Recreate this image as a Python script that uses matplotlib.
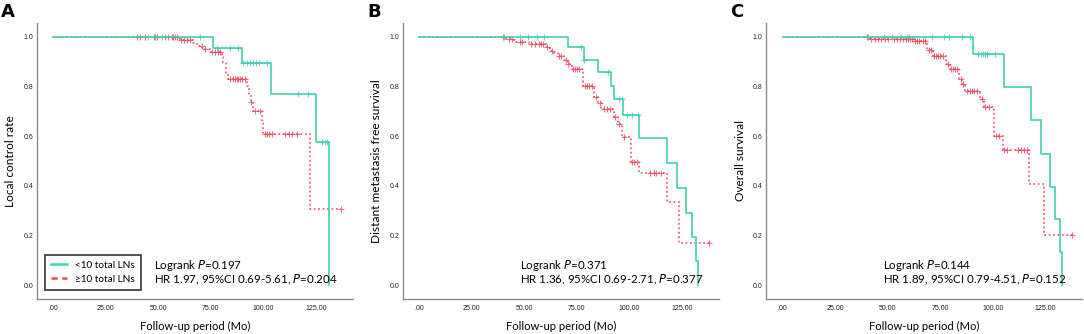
import matplotlib
matplotlib.use("Agg")
import matplotlib.pyplot as plt
import numpy as np
from matplotlib.lines import Line2D

plt.rcParams['font.family'] = ['Lato', 'DejaVu Sans']

# ---- panel A: local control ----
a_lo_t = [76.0, 89.7, 103.5, 125.0, 131.2]
a_lo_s = [0.955, 0.895, 0.768, 0.575, 0.0]
a_lo_c = [45.0, 48.4, 51.6, 69.8, 77.7, 84.1, 88.1, 90.4, 92.0, 93.5, 95.0, 96.5, 98.0,
          101.5, 116.3, 121.4, 127.7, 129.3, 130.3]
a_hi_t = [60.3, 66.6, 68.2, 71.0, 74.6, 80.1, 81.0, 82.0, 83.0, 92.0, 93.0, 94.0, 95.0,
          99.2, 100.0, 122.2]
a_hi_s = [0.987, 0.973, 0.962, 0.95, 0.937, 0.917, 0.893, 0.852, 0.83, 0.80, 0.765, 0.738,
          0.702, 0.654, 0.608, 0.305]
a_hi_c = [39.7, 41.3, 43.7, 47.7, 48.4, 49.2, 53.2, 54.8, 56.4, 57.1, 57.9, 58.7, 61.0, 62.0,
          63.5, 65.0, 70.6, 72.2, 75.4, 76.9, 78.5, 79.3, 84.1, 85.7, 86.5, 87.3, 88.1, 88.9,
          89.7, 91.2, 94.0, 96.0, 98.4, 100.8, 101.5, 102.5, 104.0, 110.3, 112.0, 113.5,
          115.8, 136.8]

# ---- panel B: distant metastasis free survival ----
b_lo_t = [70.9, 78.5, 84.9, 91.2, 92.8, 96.8, 104.7, 117.9, 122.7, 126.9, 129.6, 131.7, 132.5]
b_lo_s = [0.957, 0.906, 0.856, 0.803, 0.748, 0.685, 0.591, 0.49, 0.389, 0.291, 0.195, 0.098, 0.0]
b_lo_c = [40.4, 48.0, 51.9, 56.0, 59.2, 77.0, 78.6, 89.7, 95.1, 96.4, 98.9, 101.3, 104.2]
b_hi_t = [40.5, 45.2, 52.4, 60.3, 62.0, 64.0, 66.0, 69.0, 71.0, 72.5, 77.8, 83.0, 85.0, 86.5,
          92.8, 94.4, 96.5, 100.8, 104.7, 117.9, 123.8]
b_hi_s = [0.989, 0.98, 0.97, 0.96, 0.943, 0.933, 0.92, 0.906, 0.89, 0.868, 0.80, 0.757, 0.733,
          0.71, 0.677, 0.65, 0.596, 0.495, 0.452, 0.336, 0.17]
b_hi_c = [40.0, 42.5, 44.0, 48.0, 49.0, 53.0, 55.0, 57.0, 58.0, 59.0, 61.0, 63.0, 66.5, 67.5,
          70.0, 71.0, 73.0, 74.0, 75.0, 76.0, 79.0, 80.0, 81.0, 82.0, 84.0, 86.0, 88.0, 89.5,
          91.0, 93.0, 95.0, 97.5, 101.0, 102.0, 103.5, 110.0, 111.5, 112.5, 115.0, 137.7]

# ---- panel C: overall survival ----
c_lo_t = [90.8, 105.3, 118.0, 123.1, 127.2, 129.5, 131.8, 133.1]
c_lo_s = [0.93, 0.797, 0.663, 0.529, 0.395, 0.264, 0.134, 0.0]
c_lo_c = [40.5, 48.4, 52.3, 56.3, 59.0, 60.3, 71.2, 76.8, 79.2, 85.5, 89.2, 93.0, 94.5, 95.5,
          96.5, 97.5, 101.0]
c_hi_t = [41.5, 62.5, 68.5, 71.5, 78.0, 79.5, 84.0, 85.5, 87.0, 94.0, 96.0, 100.5, 104.8,
          117.5, 124.4]
c_hi_s = [0.992, 0.982, 0.947, 0.922, 0.89, 0.868, 0.83, 0.81, 0.78, 0.748, 0.715, 0.60, 0.545,
          0.405, 0.20]
c_hi_c = [40.3, 42.0, 44.0, 45.5, 47.0, 48.5, 50.0, 53.0, 54.5, 56.0, 57.5, 58.5, 59.5, 60.5,
          61.5, 63.0, 64.0, 65.0, 67.0, 68.0, 69.5, 70.5, 72.0, 73.0, 74.0, 75.0, 76.5, 78.5,
          80.0, 81.0, 82.0, 83.0, 85.0, 86.0, 88.0, 89.0, 90.0, 91.0, 92.5, 95.0, 96.5, 98.0,
          101.5, 103.0, 105.5, 107.0, 112.0, 113.5, 115.0, 116.5, 137.7]

letters = ['A', 'B', 'C']
ylabels = ['Local control rate', 'Distant metastasis free survival', 'Overall survival']
line1 = ['0.197', '0.371', '0.144']
line2 = [('1.97', '0.69-5.61', '0.204'), ('1.36', '0.69-2.71', '0.377'),
         ('1.89', '0.79-4.51', '0.152')]
legend_labels = ['<10 total LNs', '\u226510 total LNs']
xticks = [0, 25, 50, 75, 100, 125]
xticklabels = ['.00', '25.00', '50.00', '75.00', '100.00', '125.00']
yticks = [0.0, 0.2, 0.4, 0.6, 0.8, 1.0]

GREEN = '#45cdb4'
RED = '#f04a5e'
TICKFONT = ['Liberation Sans Narrow', 'Liberation Sans', 'DejaVu Sans']


def km(ax, t, s, cens, end, color, ls):
    xs = np.array([0.0] + list(t))
    ys = np.array([1.0] + list(s))
    if ys[-1] > 0:
        xs = np.append(xs, end)
        ys = np.append(ys, ys[-1])
    ax.plot(xs, ys, drawstyle='steps-post', color=color, lw=1.2, ls=ls)
    idx = np.searchsorted(xs, cens, side='right') - 1
    ax.plot(cens, ys[idx], '+', color=color, ms=4, mew=0.8, alpha=0.8, ls='none')


fig = plt.figure(figsize=(10.84, 3.34), dpi=100)
lefts = [36.7, 402.7, 766.0]
data = [(a_lo_t, a_lo_s, a_lo_c, a_hi_t, a_hi_s, a_hi_c),
        (b_lo_t, b_lo_s, b_lo_c, b_hi_t, b_hi_s, b_hi_c),
        (c_lo_t, c_lo_s, c_lo_c, c_hi_t, c_hi_s, c_hi_c)]

for i in range(3):
    ax = fig.add_axes([lefts[i] / 1084, 35 / 334, 316 / 1084, 276.3 / 334])
    lo_t, lo_s, lo_c, hi_t, hi_s, hi_c = data[i]
    km(ax, hi_t, hi_s, hi_c, hi_c[-1], RED, ':')
    km(ax, lo_t, lo_s, lo_c, lo_t[-1], GREEN, '-')
    ax.set_xlim(-7.9, 142.5)
    ax.set_ylim(-0.056, 1.056)
    ax.set_xticks(xticks)
    ax.set_xticklabels(xticklabels, fontfamily=TICKFONT)
    ax.set_yticks(yticks)
    ax.set_yticklabels(['%.1f' % v for v in yticks], fontfamily=TICKFONT)
    ax.tick_params(length=0, labelsize=5, colors='#222222')
    ax.tick_params(axis='y', pad=2.5)
    ax.tick_params(axis='x', pad=4.5)
    for sp in ['top', 'right']:
        ax.spines[sp].set_visible(False)
    for sp in ['left', 'bottom']:
        ax.spines[sp].set_color('#8a8a8a')
        ax.spines[sp].set_linewidth(1.0)
    ax.set_ylabel(ylabels[i], fontsize=8.6, labelpad=5)
    ax.set_xlabel('Follow-up period (Mo)', fontsize=8.1, labelpad=6)
    ax.text(48, 0.078, 'Logrank $\\it{P}$=' + line1[i], fontsize=8.3, va='center')
    hr, ci, p = line2[i]
    ax.text(48, 0.02, 'HR ' + hr + ', 95%CI ' + ci + ', $\\it{P}$=' + p, fontsize=8.3,
            va='center')
    fig.text((lefts[i] - 29) / 1084, 1 - 12 / 334, letters[i], fontsize=13,
             fontweight='bold', va='center', ha='center', family='DejaVu Sans')
    if i == 0:
        handles = [Line2D([], [], color='#3ddba0', lw=1.8),
                   Line2D([], [], color='#ff4444', lw=1.8, ls=(0, (2.5, 1.8)))]
        leg = ax.legend(handles, legend_labels, loc='lower left',
                        bbox_to_anchor=(0.026, 0.033), borderaxespad=0, fontsize=7.2,
                        fancybox=False, edgecolor='black', handlelength=1.6,
                        borderpad=0.6, labelspacing=0.5, handletextpad=0.8)
        leg.get_frame().set_linewidth(1.2)

fig.savefig('out.png', dpi=100)
